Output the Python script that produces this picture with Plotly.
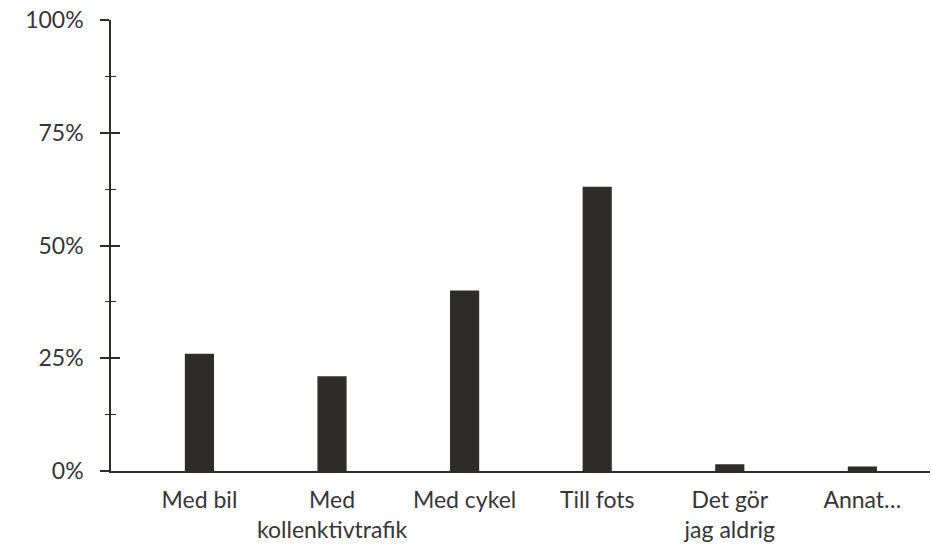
import plotly.graph_objects as go

# Survey answers: how the respondents usually travel
categories = ["Med bil", "Med<br>kollenktivtrafik", "Med cykel", "Till fots",
              "Det gör<br>jag aldrig", "Annat…"]
shares = [26, 21, 40, 63, 1.5, 1]

y_tick_values = [0, 25, 50, 75, 100]
y_tick_labels = ["0%", "25%", "50%", "75%", "100%"]

ink = "#2e2c29"
text_col = "#363636"
font_family = "Lato"

fig = go.Figure()
fig.add_trace(go.Bar(
    x=categories,
    y=shares,
    width=0.22,
    marker=dict(color=ink, line=dict(width=0)),
    hoverinfo="x+y",
))

# invisible trace to carry the inward half of the crossing ticks
fig.add_trace(go.Scatter(x=[categories[0]], y=[0], yaxis="y2",
                         mode="markers", marker=dict(opacity=0),
                         hoverinfo="skip", showlegend=False))

axis_font = dict(family=font_family, size=23, color=text_col, weight=400)

fig.update_layout(
    width=932,
    height=544,
    margin=dict(l=111, r=2, t=20, b=73),
    paper_bgcolor="white",
    plot_bgcolor="white",
    showlegend=False,
    xaxis=dict(
        type="category",
        range=[-0.667, 5.51],
        showline=True,
        linecolor=ink,
        linewidth=1.6,
        ticks="",
        showgrid=False,
        zeroline=False,
        tickfont=axis_font,
        ticklabelstandoff=8,
        automargin=False,
    ),
    yaxis=dict(
        range=[0, 100],
        tickvals=y_tick_values,
        ticktext=y_tick_labels,
        ticks="outside",
        ticklen=9,
        tickwidth=1.6,
        tickcolor=ink,
        minor=dict(dtick=12.5, tick0=0, ticks="outside", ticklen=4.5,
                   tickwidth=1.4, tickcolor=ink, showgrid=False),
        showline=True,
        linecolor=ink,
        linewidth=1.6,
        showgrid=False,
        zeroline=False,
        tickfont=axis_font,
        ticklabelstandoff=12,
        automargin=False,
    ),
    yaxis2=dict(
        overlaying="y",
        side="left",
        anchor="x",
        range=[0, 100],
        tickvals=y_tick_values,
        showticklabels=False,
        ticks="inside",
        ticklen=9,
        tickwidth=1.6,
        tickcolor=ink,
        minor=dict(dtick=12.5, tick0=0, ticks="inside", ticklen=4.5,
                   tickwidth=1.4, tickcolor=ink, showgrid=False),
        showline=False,
        showgrid=False,
        zeroline=False,
        automargin=False,
    ),
)

fig.write_html("out.html")
